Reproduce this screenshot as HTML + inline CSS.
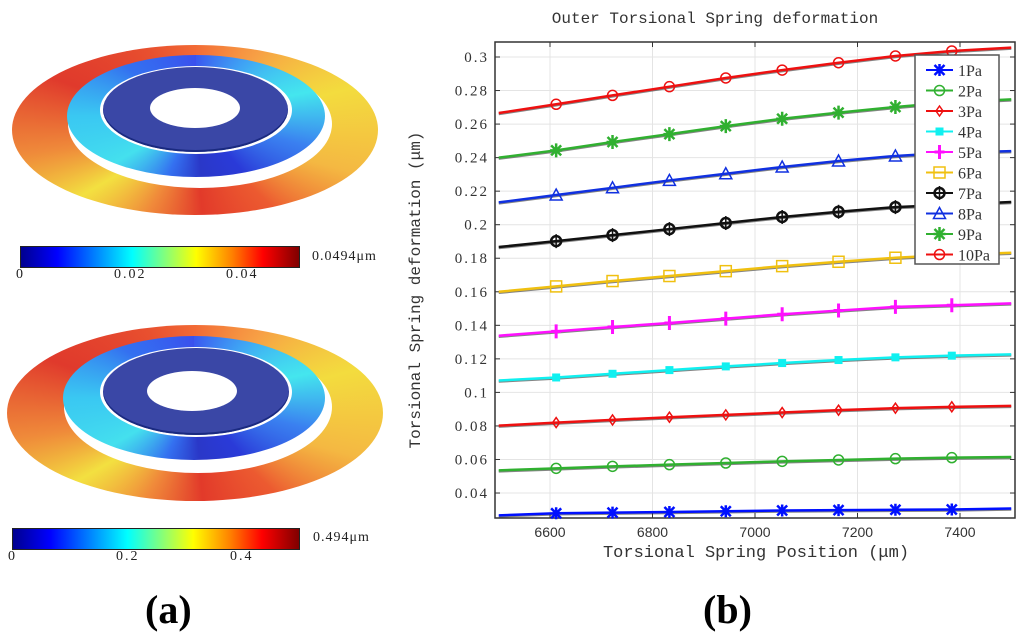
<!DOCTYPE html>
<html><head><meta charset="utf-8">
<style>
body{margin:0;width:1024px;height:635px;background:#fff;position:relative;overflow:hidden;font-family:"Liberation Serif",serif}
.abs{position:absolute}
.ell{position:absolute;border-radius:50%}
.outer{background:conic-gradient(from 0deg,#f26a35 0deg,#f7a045 40deg,#f3dc3e 75deg,#f4b842 105deg,#ec5a30 135deg,#e23a2a 175deg,#f08a3a 210deg,#f3e040 240deg,#ef8a3a 262deg,#e03a2c 290deg,#e8502f 330deg,#f26a35 360deg)}
.mid{background:conic-gradient(from 0deg,#3a58f0 0deg,#3fa8f4 45deg,#44e6ee 78deg,#3a80f0 105deg,#2a3ad8 140deg,#2a38c8 175deg,#3470f0 205deg,#44e0ee 240deg,#3ac8f2 270deg,#3470f0 305deg,#3a50ee 360deg)}
.disk{background:#3a47a6;box-shadow:inset 0 -2px 0 #1a2a80}
.cbar{background:linear-gradient(90deg,#00008f 0%,#0000ff 13%,#00ffff 40%,#ffff00 63%,#ff8000 76%,#ff0000 87%,#800000 100%);border:1px solid #222}
.tl{font-family:"Liberation Serif",serif;font-size:14px;color:#222;letter-spacing:2px}
.cap{font-family:"Liberation Serif",serif;font-weight:bold;font-size:40px}
</style></head><body>
<div>
 <div class="ell outer" style="left:12px;top:45px;width:366px;height:170px"></div>
 <div class="ell" style="left:68px;top:60px;width:264px;height:128px;background:#fff"></div>
 <div class="ell mid" style="left:67px;top:55px;width:258px;height:122px"></div>
 <div class="ell" style="left:100px;top:66px;width:192px;height:88px;background:#fff"></div>
 <div class="ell disk" style="left:103px;top:67px;width:185px;height:85px"></div>
 <div class="ell" style="left:150px;top:88px;width:90px;height:40px;background:#fff"></div>
 <div class="abs cbar" style="left:20px;top:246px;width:278px;height:20px"></div>
 <div class="abs tl" style="left:16px;top:267px">0</div>
 <div class="abs tl" style="left:114px;top:267px">0.02</div>
 <div class="abs tl" style="left:226px;top:267px">0.04</div>
 <div class="abs tl" style="left:312px;top:249px;font-size:14px;letter-spacing:1px">0.0494μm</div>
</div>
<div>
 <div class="ell outer" style="left:7px;top:325px;width:376px;height:176px"></div>
 <div class="ell" style="left:64px;top:341px;width:268px;height:132px;background:#fff"></div>
 <div class="ell mid" style="left:63px;top:336px;width:262px;height:124px"></div>
 <div class="ell" style="left:100px;top:347px;width:192px;height:90px;background:#fff"></div>
 <div class="ell disk" style="left:103px;top:348px;width:186px;height:87px"></div>
 <div class="ell" style="left:147px;top:371px;width:90px;height:40px;background:#fff"></div>
 <div class="abs cbar" style="left:12px;top:528px;width:286px;height:20px"></div>
 <div class="abs tl" style="left:8px;top:549px">0</div>
 <div class="abs tl" style="left:116px;top:549px">0.2</div>
 <div class="abs tl" style="left:230px;top:549px">0.4</div>
 <div class="abs tl" style="left:313px;top:530px;font-size:14px;letter-spacing:1px">0.494μm</div>
</div>
<div class="abs cap" style="left:145px;top:586px">(a)</div>
<div class="abs cap" style="left:703px;top:586px">(b)</div>

<svg id="chart" class="abs" style="left:0;top:0" width="1024" height="635"></svg>
<script>
const xs=[6500,6612,6722,6833,6943,7053,7163,7274,7384,7500];
const names=["1Pa","2Pa","3Pa","4Pa","5Pa","6Pa","7Pa","8Pa","9Pa","10Pa"];
const s1=[0.0267,0.0279,0.0283,0.0287,0.0291,0.0296,0.0298,0.0300,0.0302,0.0308];
const s2=[0.0535,0.0547,0.0559,0.0569,0.0579,0.0589,0.0597,0.0605,0.0611,0.0615];
const s3=[0.0802,0.0820,0.0836,0.0852,0.0866,0.0880,0.0894,0.0906,0.0914,0.0920];
const s4=[0.1071,0.1089,0.1111,0.1133,0.1155,0.1175,0.1193,0.1209,0.1219,0.1227];
const s5=[0.1338,0.1364,0.1390,0.1414,0.1440,0.1466,0.1488,0.1510,0.1520,0.1531];
const s6=[0.1600,0.1632,0.1664,0.1694,0.1723,0.1753,0.1779,0.1803,0.1820,0.1833];
const s7=[0.1867,0.1902,0.1938,0.1974,0.2010,0.2046,0.2077,0.2105,0.2120,0.2135];
const s8=[0.2133,0.2177,0.2220,0.2264,0.2304,0.2344,0.2380,0.2410,0.2430,0.2439];
const s9=[0.2400,0.2443,0.2493,0.2540,0.2588,0.2632,0.2668,0.2702,0.2730,0.2747];
const s10=[0.2666,0.2718,0.2771,0.2823,0.2875,0.2922,0.2966,0.3006,0.3036,0.3056];
const yTicks=[0.04,0.06,0.08,0.1,0.12,0.14,0.16,0.18,0.2,0.22,0.24,0.26,0.28,0.3];
const yTickLabels=["0.04","0.06","0.08","0.1","0.12","0.14","0.16","0.18","0.2","0.22","0.24","0.26","0.28","0.3"];
const xTicks=[6600,6800,7000,7200,7400];
const series=[s1,s2,s3,s4,s5,s6,s7,s8,s9,s10];
const colors=["#0010ff","#30b030","#ee1010","#10f0f0","#ff10ff","#f0c010","#111","#1030e0","#30b030","#ee1010"];
const markers=["x","o","d","s","+","S","h","^","*","o"];
const L=495,R=1015,T=42,B=518;
function X(v){return 498.75+(v-6500)*0.5125;}
function Y(v){return 57+(0.3-v)*1677;}
const svg=document.getElementById('chart');const NS="http://www.w3.org/2000/svg";
function el(t,a,p){const e=document.createElementNS(NS,t);for(const k in a)e.setAttribute(k,a[k]);(p||svg).appendChild(e);return e;}
function txt(x,y,s,a){const e=el('text',Object.assign({x:x,y:y,'font-family':'Liberation Mono, monospace','font-size':13,fill:'#333'},a||{}));e.textContent=s;return e;}
yTicks.forEach((v,i)=>{const y=Y(v);
 const g=el('line',{x1:L,x2:R,y1:y,y2:y,stroke:'#e4e4e4','stroke-width':1});
 
 el('line',{x1:L,x2:L+5,y1:y,y2:y,stroke:'#333'});el('line',{x1:R-5,x2:R,y1:y,y2:y,stroke:'#333'});
 const t=txt(L-6,y+5,yTickLabels[i],{'text-anchor':'end','font-family':'Liberation Serif, serif','font-size':15,'letter-spacing':'2'});
 });
xTicks.forEach(v=>{const x=X(v);
 const g=el('line',{x1:x,x2:x,y1:T,y2:B,stroke:'#e4e4e4'});
 
 el('line',{x1:x,x2:x,y1:B-5,y2:B,stroke:'#333'});el('line',{x1:x,x2:x,y1:T,y2:T+5,stroke:'#333'});
 const t=txt(x,B+19,String(v),{'text-anchor':'middle','font-family':'Liberation Sans, sans-serif','font-size':14});
 });
const frame=el('rect',{x:L,y:T,width:R-L,height:B-T,fill:'none',stroke:'#333','stroke-width':1.5});

function marker(m,x,y,c,g){
 if(m==='x'){el('path',{d:`M${x-5},${y-5}L${x+5},${y+5}M${x-5},${y+5}L${x+5},${y-5}M${x},${y-6}L${x},${y+6}`,stroke:c,'stroke-width':2.5},g);}
 else if(m==='o'){el('circle',{cx:x,cy:y,r:5,fill:'none',stroke:c,'stroke-width':1.5},g);}
 else if(m==='d'){el('path',{d:`M${x},${y-5}L${x+3.5},${y}L${x},${y+5}L${x-3.5},${y}Z`,fill:'none',stroke:c,'stroke-width':1.5},g);}
 else if(m==='s'){el('rect',{x:x-4,y:y-4,width:8,height:8,fill:c},g);}
 else if(m==='+'){el('path',{d:`M${x-5},${y}L${x+5},${y}M${x},${y-7}L${x},${y+7}`,stroke:c,'stroke-width':3},g);}
 else if(m==='S'){el('rect',{x:x-5.5,y:y-5.5,width:11,height:11,fill:'none',stroke:c,'stroke-width':1.5},g);}
 else if(m==='h'){el('circle',{cx:x,cy:y,r:5,fill:'none',stroke:c,'stroke-width':2.5},g);el('path',{d:`M${x},${y-7}L${x},${y+7}`,stroke:c,'stroke-width':1.5},g);}
 else if(m==='^'){el('path',{d:`M${x},${y-6}L${x+6},${y+5}L${x-6},${y+5}Z`,fill:'none',stroke:c,'stroke-width':1.5},g);}
 else if(m==='*'){el('path',{d:`M${x-6},${y}L${x+6},${y}M${x},${y-7}L${x},${y+7}M${x-5},${y-5}L${x+5},${y+5}M${x-5},${y+5}L${x+5},${y-5}`,stroke:c,'stroke-width':2.5},g);}
}
series.forEach((s,i)=>{
 const g=el('g',{});
 
 el('polyline',{points:s.map((v,j)=>X(xs[j])+','+(Y(v)+1)).join(' '),fill:'none',stroke:'#333','stroke-width':2.5,opacity:0.6},g);
 el('polyline',{points:s.map((v,j)=>X(xs[j])+','+Y(v)).join(' '),fill:'none',stroke:colors[i],'stroke-width':2.5},g);
 s.forEach((v,j)=>{if(j>0&&j<s.length-1)marker(markers[i],X(xs[j]),Y(v),colors[i],g);});
});
const lg=el('g',{});

el('rect',{x:915,y:55,width:84,height:209,fill:'#fff',stroke:'#555','stroke-width':1.5},lg);
names.forEach((n,i)=>{const y=70+i*20.5;
 const e=el('g',{},lg);
 
 el('line',{x1:926,x2:953,y1:y,y2:y,stroke:colors[i],'stroke-width':2},e);
 marker(markers[i],939.5,y,colors[i],e);
 const t=txt(958,y+6,n,{'font-family':'Liberation Serif, serif','font-size':16});e.appendChild(t);});
let t=txt(715,23,'Outer Torsional Spring deformation',{'text-anchor':'middle','font-size':16});

t=txt(756,557,'Torsional Spring Position (μm)',{'text-anchor':'middle','font-size':17});

t=txt(420,290,'Torsional Spring deformation (μm)',{'text-anchor':'middle','font-size':16,transform:'rotate(-90 420 290)'});

</script>
</body></html>
